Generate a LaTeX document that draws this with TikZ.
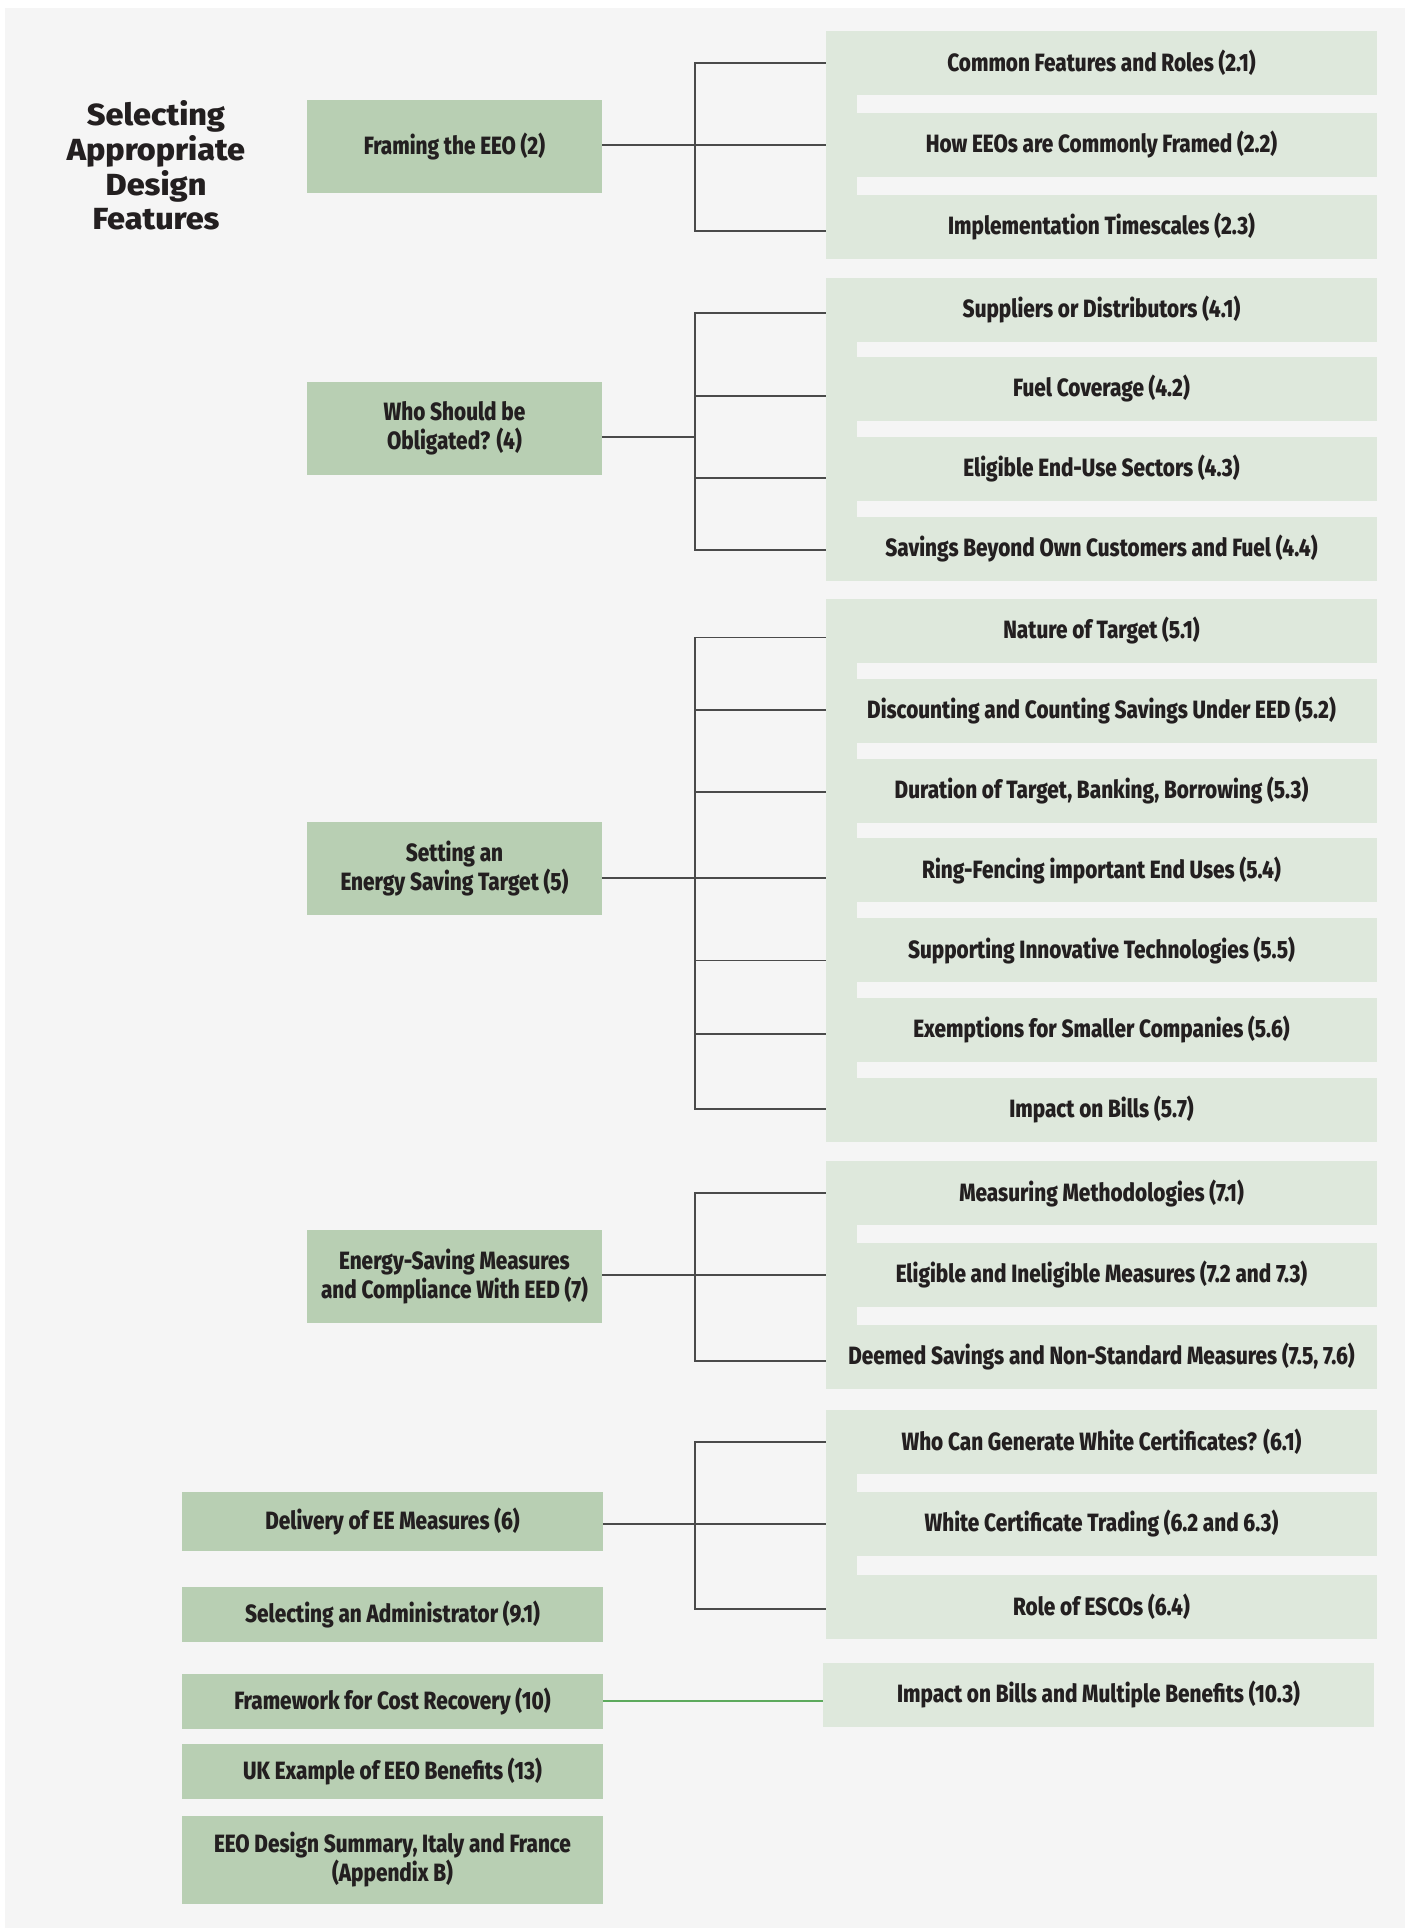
\documentclass[tikz,border=0pt]{standalone}
\usepackage{fontspec}
\setmainfont{Fira Sans}
\IfFontExistsTF{Fira Sans ExtraBold}{%
  \newfontfamily\condf{Fira Sans ExtraBold}[FakeStretch=0.83]
  \newfontfamily\titlef{Fira Sans ExtraBold}[FakeStretch=1.06]
}{%
  \newfontfamily\condf{Fira Sans}[FakeStretch=0.86,UprightFont=*,BoldFont=* Bold,FakeBold=0.6]
  \newfontfamily\titlef{Fira Sans}[FakeStretch=1.08]
}
\definecolor{bgc}{HTML}{F5F5F5}
\definecolor{lboxc}{HTML}{B8CFB3}
\definecolor{panelc}{HTML}{DEE8DC}
\definecolor{txtc}{HTML}{231F20}
\definecolor{linec}{HTML}{4A4A4A}
\definecolor{greenc}{HTML}{5DAA5D}
\tikzset{
  lbox/.style={fill=lboxc, text=txtc, inner sep=0pt, align=center,
    font=\condf\fontsize{25}{29}\selectfont, minimum width=295pt},
  lboxw/.style={lbox, minimum width=421pt},
  rrow/.style={fill=panelc, text=txtc, inner sep=0pt, align=center,
    font=\condf\fontsize{25}{29}\selectfont, minimum width=551pt, minimum height=64pt},
  gapfill/.style={fill=panelc},
  conn/.style={draw=linec, line width=1.8pt},
  gconn/.style={draw=greenc, line width=2pt},
}
\begin{document}
\begin{tikzpicture}[x=1pt,y=-1pt]
\useasboundingbox (0,0) rectangle (1405,1928);
\fill[white] (0,0) rectangle (1405,1928);
\fill[bgc] (5,8) rectangle (1405,1928);

% title
\node[text=txtc, align=center, inner sep=0pt, font=\titlef\fontsize{30.5}{34.8}\selectfont] (title) at (156,165.4)
  {Selecting\\Appropriate\\Design\\Features};

% left boxes
\node[lbox, minimum height=92.7pt] (framing) at (454.5,146.35) {Framing the EEO (2)};
\node[lbox, minimum height=92.7pt] (who) at (454.5,428.35) {Who Should be\\Obligated? (4)};
\node[lbox, minimum height=92.6pt] (setting) at (454.5,868.3) {Setting an\\Energy Saving Target (5)};
\node[lbox, minimum height=92.7pt] (energy) at (454.5,1276.35) {Energy-Saving Measures\\and Compliance With EED (7)};
\node[lboxw, minimum height=58.7pt] (delivery) at (392.5,1521.35) {Delivery of EE Measures (6)};
\node[lboxw, minimum height=54.7pt] (admin) at (392.5,1614.35) {Selecting an Administrator (9.1)};
\node[lboxw, minimum height=54.7pt] (framework) at (392.5,1701.35) {Framework for Cost Recovery (10)};
\node[lboxw, minimum height=54.7pt] (uk) at (392.5,1771.35) {UK Example of EEO Benefits (13)};
\node[lboxw, minimum height=87.7pt] (eeo) at (392.5,1859.85) {EEO Design Summary, Italy and France\\(Appendix B)};

% group 1
\node[rrow] (r11) at (1101.5,63) {Common Features and Roles (2.1)};
\node[rrow] (r12) at (1101.5,144.7) {How EEOs are Commonly Framed (2.2)};
\node[rrow] (r13) at (1101.5,227) {Implementation Timescales (2.3)};
\fill[gapfill] (826,95) rectangle (857,112.7);
\fill[gapfill] (826,176.7) rectangle (857,195);

% group 2
\node[rrow] (r21) at (1101.5,310) {Suppliers or Distributors (4.1)};
\node[rrow] (r22) at (1101.5,389) {Fuel Coverage (4.2)};
\node[rrow] (r23) at (1101.5,468.7) {Eligible End-Use Sectors (4.3)};
\node[rrow] (r24) at (1101.5,548.7) {Savings Beyond Own Customers and Fuel (4.4)};
\fill[gapfill] (826,342) rectangle (857,357);
\fill[gapfill] (826,421) rectangle (857,436.7);
\fill[gapfill] (826,500.7) rectangle (857,516.7);

% group 3
\node[rrow] (r31) at (1101.5,630.9) {Nature of Target (5.1)};
\node[rrow] (r32) at (1101.5,710.7) {Discounting and Counting Savings Under EED (5.2)};
\node[rrow] (r33) at (1101.5,790.5) {Duration of Target, Banking, Borrowing (5.3)};
\node[rrow] (r34) at (1101.5,870.3) {Ring-Fencing important End Uses (5.4)};
\node[rrow] (r35) at (1101.5,950.1) {Supporting Innovative Technologies (5.5)};
\node[rrow] (r36) at (1101.5,1029.9) {Exemptions for Smaller Companies (5.6)};
\node[rrow] (r37) at (1101.5,1109.7) {Impact on Bills (5.7)};
\fill[gapfill] (826,662.9) rectangle (857,678.7);
\fill[gapfill] (826,742.7) rectangle (857,758.5);
\fill[gapfill] (826,822.5) rectangle (857,838.3);
\fill[gapfill] (826,902.3) rectangle (857,918.1);
\fill[gapfill] (826,982.1) rectangle (857,997.9);
\fill[gapfill] (826,1061.9) rectangle (857,1077.7);

% group 4
\node[rrow] (r41) at (1101.5,1193) {Measuring Methodologies (7.1)};
\node[rrow] (r42) at (1101.5,1274.7) {Eligible and Ineligible Measures (7.2 and 7.3)};
\node[rrow] (r43) at (1101.5,1356.7) {Deemed Savings and Non-Standard Measures (7.5, 7.6)};
\fill[gapfill] (826,1225) rectangle (857,1242.7);
\fill[gapfill] (826,1306.7) rectangle (857,1324.7);

% group 5
\node[rrow] (r51) at (1101.5,1442) {Who Can Generate White Certificates? (6.1)};
\node[rrow] (r52) at (1101.5,1523.7) {White Certificate Trading (6.2 and 6.3)};
\node[rrow] (r53) at (1101.5,1606.7) {Role of ESCOs (6.4)};
\fill[gapfill] (826,1474) rectangle (857,1491.7);
\fill[gapfill] (826,1555.7) rectangle (857,1574.7);

% single
\node[rrow, minimum height=63.7pt] (impact) at (1098.5,1694.85) {Impact on Bills and Multiple Benefits (10.3)};

% connectors group 1
\coordinate (j11) at (695,62.7);
\coordinate (j12) at (695,145);
\coordinate (j13) at (695,230.7);
\draw[conn] (j11 -| r11.west) -- (j11) -- (j13) -- (j13 -| r13.west);
\draw[conn] (j12) -- (j12 -| r12.west);
\draw[conn] (framing.east |- j12) -- (j12);

% connectors group 2
\coordinate (j21) at (695,313.3);
\coordinate (j22) at (695,395.7);
\coordinate (j23) at (695,478);
\coordinate (j24) at (695,550.3);
\coordinate (k2) at (695,436.7);
\draw[conn] (j21 -| r21.west) -- (j21) -- (j24) -- (j24 -| r24.west);
\draw[conn] (j22) -- (j22 -| r22.west);
\draw[conn] (j23) -- (j23 -| r23.west);
\draw[conn] (who.east |- k2) -- (k2);

% connectors group 3
\coordinate (j31) at (695,637.5);
\coordinate (j32) at (695,709.6);
\coordinate (j33) at (695,792.1);
\coordinate (j34) at (695,877.9);
\coordinate (j35) at (695,960.4);
\coordinate (j36) at (695,1033.6);
\coordinate (j37) at (695,1108.9);
\draw[conn] (j31 -| r31.west) -- (j31) -- (j37) -- (j37 -| r37.west);
\draw[conn] (j32) -- (j32 -| r32.west);
\draw[conn] (j33) -- (j33 -| r33.west);
\draw[conn] (j34) -- (j34 -| r34.west);
\draw[conn] (j35) -- (j35 -| r35.west);
\draw[conn] (j36) -- (j36 -| r36.west);
\draw[conn] (setting.east |- j34) -- (j34);

% connectors group 4
\coordinate (j41) at (695,1192.7);
\coordinate (j42) at (695,1274.7);
\coordinate (j43) at (695,1360.7);
\draw[conn] (j41 -| r41.west) -- (j41) -- (j43) -- (j43 -| r43.west);
\draw[conn] (j42) -- (j42 -| r42.west);
\draw[conn] (energy.east |- j42) -- (j42);

% connectors group 5
\coordinate (j51) at (695,1442);
\coordinate (j52) at (695,1524);
\coordinate (j53) at (695,1609.3);
\draw[conn] (j51 -| r51.west) -- (j51) -- (j53) -- (j53 -| r53.west);
\draw[conn] (j52) -- (j52 -| r52.west);
\draw[conn] (delivery.east |- j52) -- (j52);

% green connector
\draw[gconn] (framework.east) -- (framework.east -| impact.west);
\end{tikzpicture}
\end{document}
